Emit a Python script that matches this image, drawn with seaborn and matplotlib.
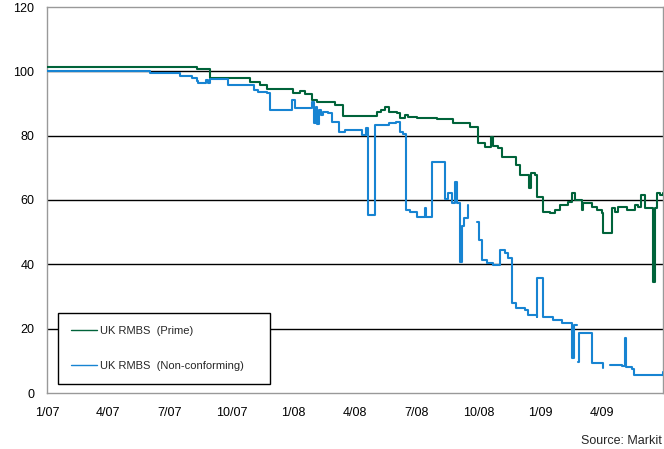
import numpy as np
import pandas as pd
import matplotlib
matplotlib.use("Agg")
import matplotlib.pyplot as plt
from matplotlib.lines import Line2D
import seaborn as sns

# ---------------- data ----------------
prime_dates = [
    "2007-01-01", "2007-08-01", "2007-08-11", "2007-08-27", "2007-08-30", "2007-09-24",
    "2007-10-28", "2007-11-12", "2007-11-22", "2007-12-23", "2007-12-31", "2008-01-10",
    "2008-01-18", "2008-01-29", "2008-02-04", "2008-02-27", "2008-03-02", "2008-03-12",
    "2008-03-14", "2008-04-23", "2008-05-03", "2008-05-10", "2008-05-15", "2008-05-22",
    "2008-06-02", "2008-06-06", "2008-06-14", "2008-06-18", "2008-07-02", "2008-07-31",
    "2008-08-04", "2008-08-24", "2008-09-18", "2008-09-28", "2008-09-30", "2008-10-10",
    "2008-10-19", "2008-10-20", "2008-10-22", "2008-10-29", "2008-11-04", "2008-11-16",
    "2008-11-26", "2008-12-01", "2008-12-08", "2008-12-14", "2008-12-17", "2008-12-23",
    "2008-12-27", "2009-01-04", "2009-01-14", "2009-01-22", "2009-01-29", "2009-02-10",
    "2009-02-17", "2009-02-20", "2009-03-03", "2009-03-04", "2009-03-18", "2009-03-25",
    "2009-04-02", "2009-04-03", "2009-04-13", "2009-04-16", "2009-04-21", "2009-04-25",
    "2009-05-08", "2009-05-20", "2009-05-25", "2009-05-30", "2009-06-05", "2009-06-16",
    "2009-06-19", "2009-06-22", "2009-06-26", "2009-07-01",
]
prime_values = [
    101.3, 101.3, 100.7, 100.7, 97.9, 97.9,
    96.8, 95.8, 94.4, 94.6, 93.4, 93.8,
    93.0, 91.0, 90.5, 90.5, 89.5, 89.5,
    86.2, 86.0, 87.3, 87.9, 88.9, 87.3,
    87.0, 85.5, 86.4, 85.8, 85.5, 85.2,
    85.3, 83.9, 82.7, 82.7, 77.7, 76.5,
    76.5, 79.6, 76.8, 76.2, 73.4, 73.4,
    70.9, 67.8, 67.8, 63.7, 68.4, 67.8,
    61.0, 56.3, 56.0, 57.0, 58.4, 59.4,
    62.2, 60.0, 56.9, 59.0, 57.8, 56.9,
    56.0, 49.7, 49.7, 57.5, 56.3, 57.8,
    56.9, 58.4, 57.8, 61.5, 57.5, 34.5,
    57.5, 62.2, 61.5, 62.2,
]

nonconf_dates = [
    "2007-01-01", "2007-05-29", "2007-06-02", "2007-07-17", "2007-08-03", "2007-08-11",
    "2007-08-12", "2007-08-22", "2007-08-25", "2007-08-28", "2007-08-31", "2007-09-24",
    "2007-09-26", "2007-11-02", "2007-11-04", "2007-11-09", "2007-11-22", "2007-11-27",
    "2007-12-23", "2007-12-29", "2008-01-03", "2008-01-15", "2008-01-28", "2008-01-29",
    "2008-01-31", "2008-02-03", "2008-02-04", "2008-02-07", "2008-02-10", "2008-02-13",
    "2008-02-21", "2008-02-27", "2008-03-02", "2008-03-09", "2008-03-17", "2008-04-11",
    "2008-04-12", "2008-04-17", "2008-04-18", "2008-04-20", "2008-04-27", "2008-04-30",
    "2008-05-05", "2008-05-22", "2008-05-31", "2008-06-06", "2008-06-11", "2008-06-15",
    "2008-06-21", "2008-07-02", "2008-07-12", "2008-07-13", "2008-07-15", "2008-07-22",
    "2008-07-24", "2008-08-07", "2008-08-12", "2008-08-16", "2008-08-22", "2008-08-27",
    "2008-08-30", "2008-09-03", "2008-09-06", "2008-09-10", "2008-09-15", "2008-09-16",
    "2008-09-20", "2008-09-28", "2008-10-01", "2008-10-06", "2008-10-13", "2008-10-22",
    "2008-10-29", "2008-11-01", "2008-11-09", "2008-11-13", "2008-11-19", "2008-11-26",
    "2008-12-08", "2008-12-13", "2008-12-26", "2008-12-27", "2009-01-02", "2009-01-04",
    "2009-01-19", "2009-02-02", "2009-02-16", "2009-02-17", "2009-02-19", "2009-02-23",
    "2009-02-24", "2009-02-25", "2009-02-26", "2009-03-12", "2009-03-18", "2009-04-03",
    "2009-04-06", "2009-04-13", "2009-05-01", "2009-05-04", "2009-05-05", "2009-05-07",
    "2009-05-16", "2009-05-19", "2009-06-28", "2009-07-01",
]
nonconf_values = [
    100.0, 100.0, 99.6, 98.6, 97.9, 97.1,
    96.4, 96.4, 97.3, 96.4, 97.6, 97.6,
    95.7, 95.7, 94.2, 93.6, 93.3, 88.0,
    88.0, 91.0, 88.6, 88.6, 88.6, 90.5,
    84.0, 89.0, 83.5, 88.0, 86.5, 87.3,
    87.0, 84.2, 84.2, 81.1, 81.7, 81.7,
    80.2, 80.2, 82.4, 55.3, 55.3, 83.3,
    83.3, 84.0, 84.2, 81.1, 80.5, 56.9,
    56.3, 54.7, 54.7, 57.5, 54.7, 54.7,
    71.8, 71.8, 60.3, 62.1, 59.0, 65.6,
    59.0, 40.7, 52.0, 54.4, 57.5, 58.4,
    None, 53.2, 47.6, 41.3, 40.4, 39.8,
    39.8, 44.5, 43.5, 42.0, 28.0, 26.4,
    25.8, 24.2, 23.6, 35.7, 35.7, 23.6,
    22.7, 21.8, 21.1, 10.9, 21.1, 21.1,
    None, 9.6, 18.6, 18.6, 9.3, 7.8,
    None, 8.7, 8.3, 8.3, 17.1, 8.0,
    7.5, 5.6, 5.6, 6.5,
]

series_names = ["UK RMBS  (Prime)", "UK RMBS  (Non-conforming)"]
series_colors = ["#00633a", "#1784d2"]
ytick_values = [0, 20, 40, 60, 80, 100, 120]
xtick_dates = ["2007-01-01", "2007-04-01", "2007-07-01", "2007-10-01", "2008-01-01",
               "2008-04-01", "2008-07-01", "2008-10-01", "2009-01-01", "2009-04-01"]
xtick_labels = ["1/07", "4/07", "7/07", "10/07", "1/08", "4/08", "7/08", "10/08", "1/09", "4/09"]
source_text = "Source: Markit"

# ---------------- build frame ----------------
frames = []
for name, d, v in [(series_names[0], prime_dates, prime_values),
                   (series_names[1], nonconf_dates, nonconf_values)]:
    f = pd.DataFrame({"date": pd.to_datetime(d),
                      "value": pd.Series(v, dtype="float")})
    f["seg"] = f["value"].isna().cumsum()
    f = f.dropna()
    f["series"] = name
    f["unit"] = name + "_" + f["seg"].astype(str)
    frames.append(f)
df = pd.concat(frames, ignore_index=True)

# ---------------- plot ----------------
sns.set_style("white")
plt.rcParams["font.family"] = ["Liberation Sans", "DejaVu Sans"]

fig = plt.figure(figsize=(6.64, 4.49), dpi=100)
ax = fig.add_axes([47 / 664, 1 - 393 / 449, 616 / 664, 386 / 449])

for y in ytick_values[1:-1]:
    ax.axhline(y, color="black", lw=1.0, zorder=1)

sns.lineplot(data=df, x="date", y="value", hue="series", units="unit",
             estimator=None, sort=False, palette=dict(zip(series_names, series_colors)),
             linewidth=1.5, legend=False, ax=ax, zorder=3, drawstyle="steps-post")

ax.set_xlim(pd.Timestamp("2007-01-01"), pd.Timestamp("2009-07-01"))
ax.set_ylim(0, 120)
ax.set_yticks(ytick_values)
ax.set_yticklabels([str(v) for v in ytick_values], fontsize=9)
ax.set_xticks(pd.to_datetime(xtick_dates))
ax.set_xticklabels(xtick_labels, fontsize=9)
ax.tick_params(axis="both", length=0, colors="black")
ax.tick_params(axis="y", pad=9)
ax.tick_params(axis="x", pad=10)
ax.set_xlabel("")
ax.set_ylabel("")
for s in ax.spines.values():
    s.set_color("#999999")
    s.set_linewidth(1.0)
    s.set_visible(True)

handles = [Line2D([0], [0], color=c, lw=1.0) for c in series_colors]
leg = ax.legend(handles, series_names, loc="lower left",
                bbox_to_anchor=(11 / 616, 9 / 386, 212 / 616, 71 / 386), mode="expand",
                fontsize=8, frameon=True, fancybox=False, handlelength=2.4,
                handletextpad=0.25, labelspacing=2.3, borderpad=1.15, borderaxespad=0)
leg.get_frame().set_edgecolor("black")
leg.get_frame().set_linewidth(1.0)
leg.get_frame().set_facecolor("white")
leg.get_frame().set_alpha(1)
leg.set_zorder(5)

fig.text(662 / 664, 1 - 441 / 449, source_text, ha="right", va="center", fontsize=9)

fig.savefig("out.png", dpi=100)
